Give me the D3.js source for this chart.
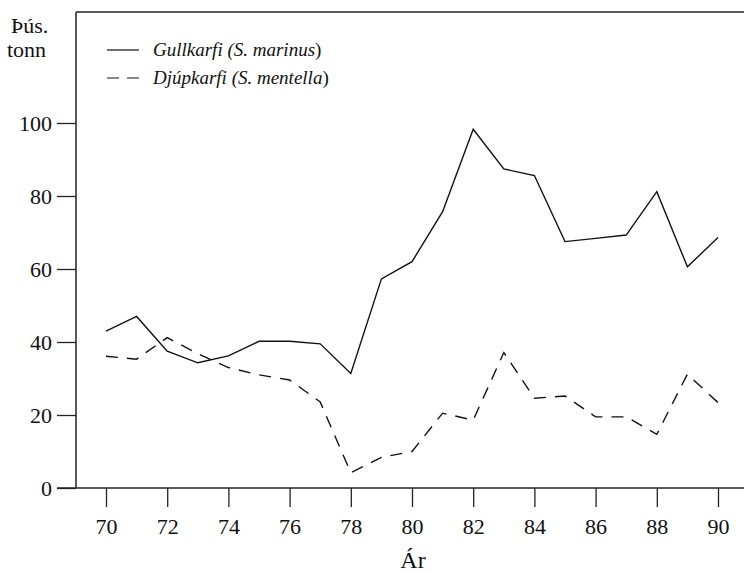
<!DOCTYPE html>
<html>
<head>
<meta charset="utf-8">
<script src="https://cdn.jsdelivr.net/npm/d3@7"></script>
<style>
  body { margin: 0; background: #fff; }
  svg text { font-family: "Liberation Serif", "Times New Roman", Tinos, "DejaVu Serif", serif; fill: #111; }
</style>
</head>
<body>
<svg id="chart" width="744" height="573"></svg>
<script>
// years and catches (thousand tonnes)
const years = d3.range(70, 91);
const gullkarfi = [43, 47, 37.5, 34.3, 36.2, 40.2, 40.2, 39.5, 31.4, 57.3, 62, 75.7, 98.3, 87.4, 85.6, 67.5, 68.4, 69.3, 81.2, 60.6, 68.6];
const djupkarfi = [36.1, 35.3, 41.2, 36.8, 33, 31, 29.6, 23.6, 4.2, 8.4, 10, 20.5, 18.6, 37.1, 24.6, 25.2, 19.5, 19.5, 14.7, 31.2, 23.4];
const yTicks = [0, 20, 40, 60, 80, 100];
const xTicks = [70, 72, 74, 76, 78, 80, 82, 84, 86, 88, 90];

const series = [
  { name: "Gullkarfi", latin: "S. marinus", values: gullkarfi, dash: null },
  { name: "Djúpkarfi", latin: "S. mentella", values: djupkarfi, dash: "12,9" }
];

const serif = '"Liberation Serif", "Times New Roman", Tinos, "DejaVu Serif", serif';
const svg = d3.select("#chart");
const plotLeft = 76, plotTop = 12, plotBottom = 488;

const x = d3.scaleLinear().domain([70, 90]).range([106, 718]);
const y = d3.scaleLinear().domain([0, 100]).range([plotBottom, 123]);

// frame: left and top
svg.append("line")
    .attr("x1", plotLeft).attr("x2", plotLeft).attr("y1", plotTop).attr("y2", plotBottom)
    .attr("stroke", "#222").attr("stroke-width", 1.5);
svg.append("line")
    .attr("x1", plotLeft).attr("x2", 744).attr("y1", plotTop).attr("y2", plotTop)
    .attr("stroke", "#222").attr("stroke-width", 1.5);

// y axis ticks, pointing outwards
const yAxis = svg.append("g")
    .attr("transform", `translate(${plotLeft},0)`)
    .call(d3.axisLeft(y).tickValues(yTicks).tickSize(19).tickPadding(5));
yAxis.select(".domain").remove();

// x axis
const xAxis = svg.append("g")
    .attr("transform", `translate(0,${plotBottom})`)
    .call(d3.axisBottom(x).tickValues(xTicks).tickSize(19).tickPadding(11));
xAxis.select(".domain").remove();
svg.append("line")
    .attr("x1", 57).attr("x2", 744).attr("y1", plotBottom).attr("y2", plotBottom)
    .attr("stroke", "#222").attr("stroke-width", 1.5);

svg.selectAll("g").attr("font-family", serif);
svg.selectAll(".tick line").attr("stroke", "#222").attr("stroke-width", 1.3);
svg.selectAll(".tick text")
    .style("font-family", serif)
    .style("font-size", "22px")
    .attr("fill", "#111");

// axis titles
svg.append("text").attr("x", 11).attr("y", 33).style("font-family", serif).style("font-size", "22px").text("Þús.");
svg.append("text").attr("x", 7).attr("y", 57).style("font-family", serif).style("font-size", "22px").text("tonn");
svg.append("text").attr("x", 413).attr("y", 568).attr("text-anchor", "middle")
    .style("font-family", serif).style("font-size", "24px").text("Ár");

// lines
const line = d3.line()
    .x((d, i) => x(years[i]))
    .y(d => y(d));

svg.selectAll(".series")
  .data(series)
  .join("path")
    .attr("class", "series")
    .attr("d", d => line(d.values))
    .attr("fill", "none")
    .attr("stroke", "#111")
    .attr("stroke-width", 1.4)
    .attr("stroke-dasharray", d => d.dash);

// legend
const legend = svg.selectAll(".legend")
  .data(series)
  .join("g")
    .attr("class", "legend")
    .attr("transform", (d, i) => `translate(107,${50 + i * 28})`);

legend.append("line")
    .attr("x1", 0).attr("x2", 32)
    .attr("stroke", "#111").attr("stroke-width", 1.2)
    .attr("stroke-dasharray", d => d.dash ? "12,8" : null);

const lt = legend.append("text")
    .attr("x", 46).attr("y", 6)
    .style("font-family", serif)
    .style("font-size", "19px")
    .style("font-style", "italic");
lt.append("tspan").text(d => `${d.name} (`);
lt.append("tspan").text(d => d.latin);
lt.append("tspan").style("font-style", "normal").text(")");
</script>
</body>
</html>
